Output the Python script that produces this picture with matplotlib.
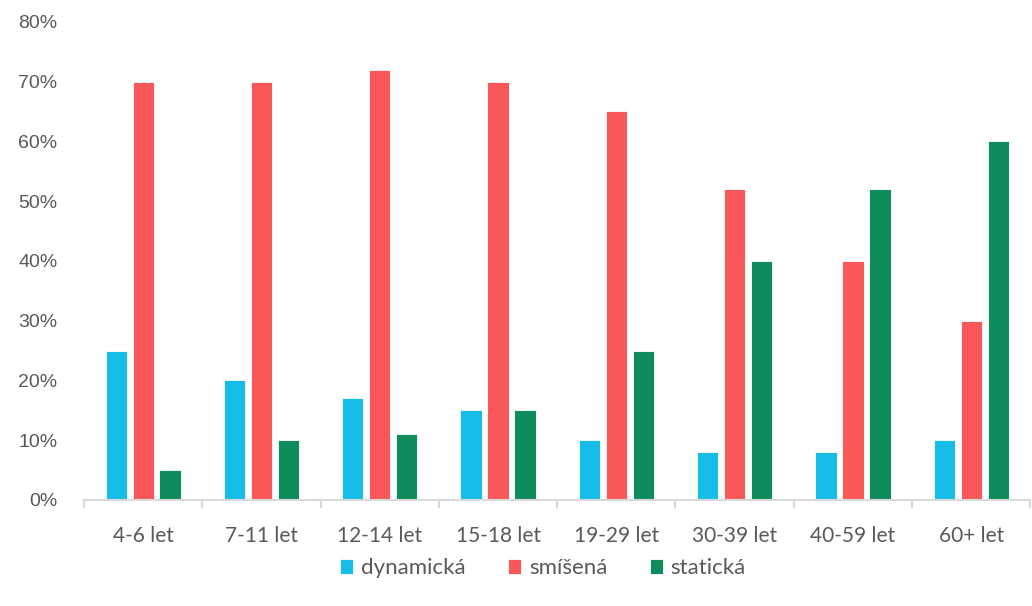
import numpy as np
import matplotlib.pyplot as plt

plt.switch_backend('Agg')

categories = ['4-6 let', '7-11 let', '12-14 let', '15-18 let',
              '19-29 let', '30-39 let', '40-59 let', '60+ let']
dynamicka = [25, 20, 17, 15, 10, 8, 8, 10]
smisena = [70, 70, 72, 70, 65, 52, 40, 30]
staticka = [5, 10, 11, 15, 25, 40, 52, 60]
series_names = ['dynamická', 'smíšená', 'statická']
y_ticks = [0, 10, 20, 30, 40, 50, 60, 70, 80]

colors = ['#17BDE9', '#FA5858', '#0E8C5B']

fig = plt.figure(figsize=(10.32, 6.06), dpi=100)
ax = fig.add_axes([0.0814, 0.175, 0.917, 0.789])

x = np.arange(len(categories))
w = 0.18
step = 0.228
for i, (vals, name) in enumerate(zip([dynamicka, smisena, staticka], series_names)):
    ax.bar(x + (i - 1) * step, vals, width=w, color=colors[i], label=name,
           edgecolor='white', linewidth=0.6)

ax.set_xlim(-0.5, len(categories) - 0.5)
ax.set_ylim(0, 80)
ax.set_yticks(y_ticks)
ax.set_yticklabels([f'{v}%' for v in y_ticks], fontsize=14, color='#595959',
                   family='Liberation Sans')
ax.tick_params(axis='y', length=0, pad=19)

ax.set_xticks(x)
ax.set_xticklabels(categories, fontsize=15, color='#595959', family='Lato')
ax.set_xticks(np.arange(-0.5, len(categories)), minor=True)
ax.tick_params(axis='x', which='major', length=0, pad=19)
ax.tick_params(axis='x', which='minor', length=6, width=1.5, color='#D9D9D9')

for s in ['top', 'right', 'left']:
    ax.spines[s].set_visible(False)
ax.spines['bottom'].set_color('#D9D9D9')
ax.spines['bottom'].set_linewidth(1.5)

leg = ax.legend(loc='upper center', bbox_to_anchor=(0.485, -0.08), ncol=3,
                frameon=False, handlelength=0.6, handleheight=0.7,
                columnspacing=1.9, handletextpad=0.35,
                prop={'family': 'Lato', 'size': 16})
for t in leg.get_texts():
    t.set_color('#595959')

plt.savefig('out.png', dpi=100)
